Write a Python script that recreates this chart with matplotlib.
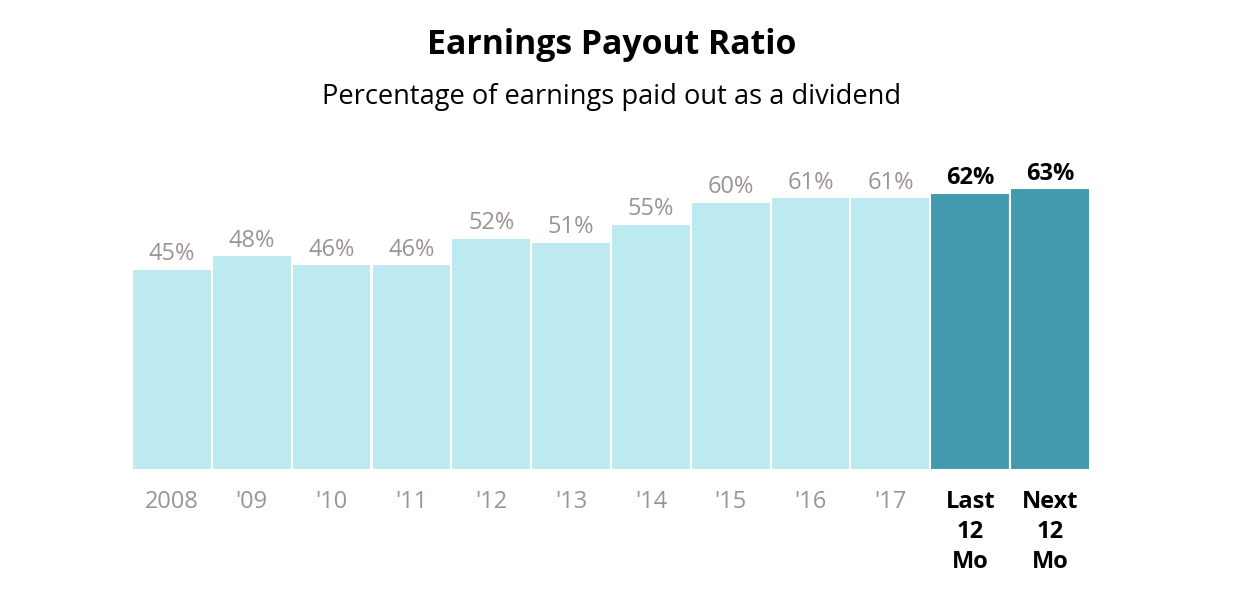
import matplotlib.pyplot as plt

plt.rcParams["font.family"] = ["Open Sans", "DejaVu Sans"]

CATEGORIES = ["2008", "'09", "'10", "'11", "'12", "'13", "'14", "'15", "'16", "'17",
              "Last\n12\nMo", "Next\n12\nMo"]
PAYOUT = [45, 48, 46, 46, 52, 51, 55, 60, 61, 61, 62, 63]
HIGHLIGHT = [False] * 10 + [True, True]

LIGHT = "#bceaf0"
DARK = "#4399ae"
GRAY = "#9b9592"

W, H = 1252, 594
fig = plt.figure(figsize=(W / 100, H / 100), dpi=100)
px_per_pct = 4.47
ymax = 70
ax_h = ymax * px_per_pct
ax = fig.add_axes([132 / W, 1 - 470 / H, (1090 - 132) / W, ax_h / H])

xs = list(range(len(PAYOUT)))
colors = [DARK if h else LIGHT for h in HIGHLIGHT]
ax.bar(xs, PAYOUT, width=1.0, color=colors, edgecolor="white", linewidth=1.5,
       align="center")
ax.set_xlim(-0.5, len(PAYOUT) - 0.5)
ax.set_ylim(0, ymax)

for x, v, h in zip(xs, PAYOUT, HIGHLIGHT):
    ax.annotate(f"{v}%", (x, v), xytext=(0, 2), textcoords="offset points",
                ha="center", va="bottom", fontsize=17,
                color="black" if h else GRAY, fontweight="bold" if h else "normal")

ax.set_xticks(xs)
ax.set_xticklabels(CATEGORIES, fontsize=17, linespacing=1.32, va="top")
for lbl, h in zip(ax.get_xticklabels(), HIGHLIGHT):
    lbl.set_color("black" if h else GRAY)
    lbl.set_fontweight("bold" if h else "normal")
ax.tick_params(axis="x", length=0, pad=14.5)
ax.set_yticks([])
for s in ax.spines.values():
    s.set_visible(False)

fig.text(612 / W, 1 - 45 / H, "Earnings Payout Ratio", ha="center", va="center",
         fontsize=24.4, fontweight="bold")
fig.text(612 / W, 1 - 97 / H, "Percentage of earnings paid out as a dividend",
         ha="center", va="center", fontsize=19.6)

fig.savefig("out.png", dpi=100)
